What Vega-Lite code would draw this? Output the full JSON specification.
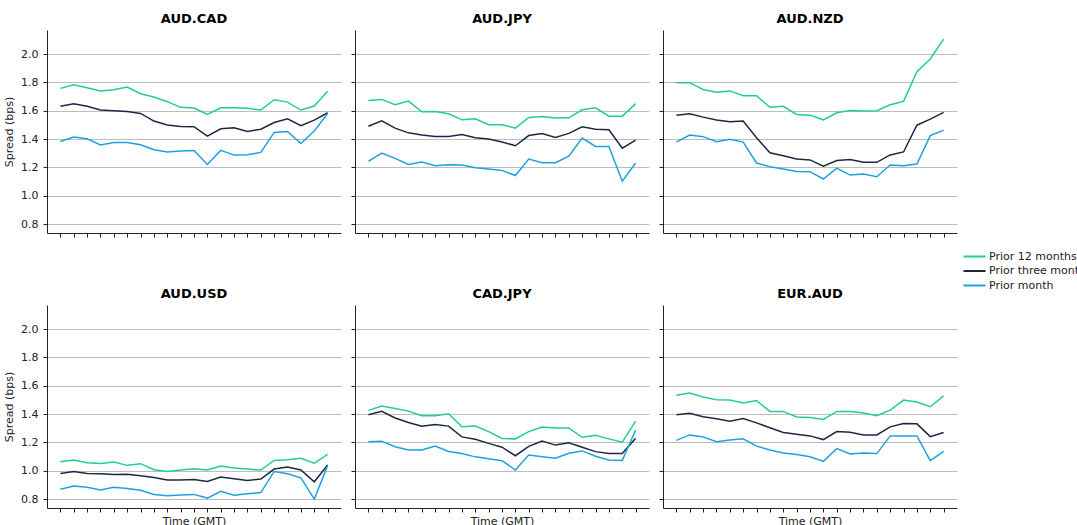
{
"$schema": "https://vega.github.io/schema/vega-lite/v6.json",
"padding": {"left": 3, "top": 13, "right": 5, "bottom": 5},
"data": {"values": [
{"p":"AUD.CAD","s":"Prior 12 months","t":0,"v":1.758},{"p":"AUD.CAD","s":"Prior 12 months","t":1,"v":1.784},{"p":"AUD.CAD","s":"Prior 12 months","t":2,"v":1.763},{"p":"AUD.CAD","s":"Prior 12 months","t":3,"v":1.739},{"p":"AUD.CAD","s":"Prior 12 months","t":4,"v":1.748},{"p":"AUD.CAD","s":"Prior 12 months","t":5,"v":1.767},{"p":"AUD.CAD","s":"Prior 12 months","t":6,"v":1.72},{"p":"AUD.CAD","s":"Prior 12 months","t":7,"v":1.697},{"p":"AUD.CAD","s":"Prior 12 months","t":8,"v":1.664},{"p":"AUD.CAD","s":"Prior 12 months","t":9,"v":1.624},{"p":"AUD.CAD","s":"Prior 12 months","t":10,"v":1.619},{"p":"AUD.CAD","s":"Prior 12 months","t":11,"v":1.574},{"p":"AUD.CAD","s":"Prior 12 months","t":12,"v":1.621},{"p":"AUD.CAD","s":"Prior 12 months","t":13,"v":1.621},{"p":"AUD.CAD","s":"Prior 12 months","t":14,"v":1.617},{"p":"AUD.CAD","s":"Prior 12 months","t":15,"v":1.605},{"p":"AUD.CAD","s":"Prior 12 months","t":16,"v":1.678},{"p":"AUD.CAD","s":"Prior 12 months","t":17,"v":1.661},{"p":"AUD.CAD","s":"Prior 12 months","t":18,"v":1.605},{"p":"AUD.CAD","s":"Prior 12 months","t":19,"v":1.633},{"p":"AUD.CAD","s":"Prior 12 months","t":20,"v":1.737},
{"p":"AUD.CAD","s":"Prior three months","t":0,"v":1.631},{"p":"AUD.CAD","s":"Prior three months","t":1,"v":1.65},{"p":"AUD.CAD","s":"Prior three months","t":2,"v":1.631},{"p":"AUD.CAD","s":"Prior three months","t":3,"v":1.605},{"p":"AUD.CAD","s":"Prior three months","t":4,"v":1.6},{"p":"AUD.CAD","s":"Prior three months","t":5,"v":1.595},{"p":"AUD.CAD","s":"Prior three months","t":6,"v":1.581},{"p":"AUD.CAD","s":"Prior three months","t":7,"v":1.527},{"p":"AUD.CAD","s":"Prior three months","t":8,"v":1.499},{"p":"AUD.CAD","s":"Prior three months","t":9,"v":1.489},{"p":"AUD.CAD","s":"Prior three months","t":10,"v":1.487},{"p":"AUD.CAD","s":"Prior three months","t":11,"v":1.421},{"p":"AUD.CAD","s":"Prior three months","t":12,"v":1.473},{"p":"AUD.CAD","s":"Prior three months","t":13,"v":1.48},{"p":"AUD.CAD","s":"Prior three months","t":14,"v":1.454},{"p":"AUD.CAD","s":"Prior three months","t":15,"v":1.47},{"p":"AUD.CAD","s":"Prior three months","t":16,"v":1.517},{"p":"AUD.CAD","s":"Prior three months","t":17,"v":1.543},{"p":"AUD.CAD","s":"Prior three months","t":18,"v":1.494},{"p":"AUD.CAD","s":"Prior three months","t":19,"v":1.534},{"p":"AUD.CAD","s":"Prior three months","t":20,"v":1.586},
{"p":"AUD.CAD","s":"Prior month","t":0,"v":1.383},{"p":"AUD.CAD","s":"Prior month","t":1,"v":1.414},{"p":"AUD.CAD","s":"Prior month","t":2,"v":1.402},{"p":"AUD.CAD","s":"Prior month","t":3,"v":1.358},{"p":"AUD.CAD","s":"Prior month","t":4,"v":1.376},{"p":"AUD.CAD","s":"Prior month","t":5,"v":1.376},{"p":"AUD.CAD","s":"Prior month","t":6,"v":1.36},{"p":"AUD.CAD","s":"Prior month","t":7,"v":1.325},{"p":"AUD.CAD","s":"Prior month","t":8,"v":1.308},{"p":"AUD.CAD","s":"Prior month","t":9,"v":1.315},{"p":"AUD.CAD","s":"Prior month","t":10,"v":1.32},{"p":"AUD.CAD","s":"Prior month","t":11,"v":1.221},{"p":"AUD.CAD","s":"Prior month","t":12,"v":1.32},{"p":"AUD.CAD","s":"Prior month","t":13,"v":1.287},{"p":"AUD.CAD","s":"Prior month","t":14,"v":1.289},{"p":"AUD.CAD","s":"Prior month","t":15,"v":1.306},{"p":"AUD.CAD","s":"Prior month","t":16,"v":1.447},{"p":"AUD.CAD","s":"Prior month","t":17,"v":1.454},{"p":"AUD.CAD","s":"Prior month","t":18,"v":1.369},{"p":"AUD.CAD","s":"Prior month","t":19,"v":1.457},{"p":"AUD.CAD","s":"Prior month","t":20,"v":1.581},
{"p":"AUD.JPY","s":"Prior 12 months","t":0,"v":1.673},{"p":"AUD.JPY","s":"Prior 12 months","t":1,"v":1.68},{"p":"AUD.JPY","s":"Prior 12 months","t":2,"v":1.642},{"p":"AUD.JPY","s":"Prior 12 months","t":3,"v":1.668},{"p":"AUD.JPY","s":"Prior 12 months","t":4,"v":1.593},{"p":"AUD.JPY","s":"Prior 12 months","t":5,"v":1.595},{"p":"AUD.JPY","s":"Prior 12 months","t":6,"v":1.579},{"p":"AUD.JPY","s":"Prior 12 months","t":7,"v":1.536},{"p":"AUD.JPY","s":"Prior 12 months","t":8,"v":1.543},{"p":"AUD.JPY","s":"Prior 12 months","t":9,"v":1.501},{"p":"AUD.JPY","s":"Prior 12 months","t":10,"v":1.501},{"p":"AUD.JPY","s":"Prior 12 months","t":11,"v":1.477},{"p":"AUD.JPY","s":"Prior 12 months","t":12,"v":1.553},{"p":"AUD.JPY","s":"Prior 12 months","t":13,"v":1.56},{"p":"AUD.JPY","s":"Prior 12 months","t":14,"v":1.548},{"p":"AUD.JPY","s":"Prior 12 months","t":15,"v":1.55},{"p":"AUD.JPY","s":"Prior 12 months","t":16,"v":1.607},{"p":"AUD.JPY","s":"Prior 12 months","t":17,"v":1.621},{"p":"AUD.JPY","s":"Prior 12 months","t":18,"v":1.562},{"p":"AUD.JPY","s":"Prior 12 months","t":19,"v":1.562},{"p":"AUD.JPY","s":"Prior 12 months","t":20,"v":1.65},
{"p":"AUD.JPY","s":"Prior three months","t":0,"v":1.491},{"p":"AUD.JPY","s":"Prior three months","t":1,"v":1.529},{"p":"AUD.JPY","s":"Prior three months","t":2,"v":1.477},{"p":"AUD.JPY","s":"Prior three months","t":3,"v":1.444},{"p":"AUD.JPY","s":"Prior three months","t":4,"v":1.428},{"p":"AUD.JPY","s":"Prior three months","t":5,"v":1.418},{"p":"AUD.JPY","s":"Prior three months","t":6,"v":1.418},{"p":"AUD.JPY","s":"Prior three months","t":7,"v":1.433},{"p":"AUD.JPY","s":"Prior three months","t":8,"v":1.409},{"p":"AUD.JPY","s":"Prior three months","t":9,"v":1.4},{"p":"AUD.JPY","s":"Prior three months","t":10,"v":1.38},{"p":"AUD.JPY","s":"Prior three months","t":11,"v":1.353},{"p":"AUD.JPY","s":"Prior three months","t":12,"v":1.425},{"p":"AUD.JPY","s":"Prior three months","t":13,"v":1.44},{"p":"AUD.JPY","s":"Prior three months","t":14,"v":1.411},{"p":"AUD.JPY","s":"Prior three months","t":15,"v":1.44},{"p":"AUD.JPY","s":"Prior three months","t":16,"v":1.487},{"p":"AUD.JPY","s":"Prior three months","t":17,"v":1.47},{"p":"AUD.JPY","s":"Prior three months","t":18,"v":1.466},{"p":"AUD.JPY","s":"Prior three months","t":19,"v":1.336},{"p":"AUD.JPY","s":"Prior three months","t":20,"v":1.393},
{"p":"AUD.JPY","s":"Prior month","t":0,"v":1.242},{"p":"AUD.JPY","s":"Prior month","t":1,"v":1.301},{"p":"AUD.JPY","s":"Prior month","t":2,"v":1.264},{"p":"AUD.JPY","s":"Prior month","t":3,"v":1.221},{"p":"AUD.JPY","s":"Prior month","t":4,"v":1.238},{"p":"AUD.JPY","s":"Prior month","t":5,"v":1.212},{"p":"AUD.JPY","s":"Prior month","t":6,"v":1.219},{"p":"AUD.JPY","s":"Prior month","t":7,"v":1.217},{"p":"AUD.JPY","s":"Prior month","t":8,"v":1.198},{"p":"AUD.JPY","s":"Prior month","t":9,"v":1.188},{"p":"AUD.JPY","s":"Prior month","t":10,"v":1.179},{"p":"AUD.JPY","s":"Prior month","t":11,"v":1.143},{"p":"AUD.JPY","s":"Prior month","t":12,"v":1.259},{"p":"AUD.JPY","s":"Prior month","t":13,"v":1.233},{"p":"AUD.JPY","s":"Prior month","t":14,"v":1.233},{"p":"AUD.JPY","s":"Prior month","t":15,"v":1.28},{"p":"AUD.JPY","s":"Prior month","t":16,"v":1.407},{"p":"AUD.JPY","s":"Prior month","t":17,"v":1.348},{"p":"AUD.JPY","s":"Prior month","t":18,"v":1.348},{"p":"AUD.JPY","s":"Prior month","t":19,"v":1.103},{"p":"AUD.JPY","s":"Prior month","t":20,"v":1.231},
{"p":"AUD.NZD","s":"Prior 12 months","t":0,"v":1.798},{"p":"AUD.NZD","s":"Prior 12 months","t":1,"v":1.798},{"p":"AUD.NZD","s":"Prior 12 months","t":2,"v":1.75},{"p":"AUD.NZD","s":"Prior 12 months","t":3,"v":1.73},{"p":"AUD.NZD","s":"Prior 12 months","t":4,"v":1.74},{"p":"AUD.NZD","s":"Prior 12 months","t":5,"v":1.706},{"p":"AUD.NZD","s":"Prior 12 months","t":6,"v":1.706},{"p":"AUD.NZD","s":"Prior 12 months","t":7,"v":1.624},{"p":"AUD.NZD","s":"Prior 12 months","t":8,"v":1.631},{"p":"AUD.NZD","s":"Prior 12 months","t":9,"v":1.574},{"p":"AUD.NZD","s":"Prior 12 months","t":10,"v":1.569},{"p":"AUD.NZD","s":"Prior 12 months","t":11,"v":1.536},{"p":"AUD.NZD","s":"Prior 12 months","t":12,"v":1.586},{"p":"AUD.NZD","s":"Prior 12 months","t":13,"v":1.602},{"p":"AUD.NZD","s":"Prior 12 months","t":14,"v":1.598},{"p":"AUD.NZD","s":"Prior 12 months","t":15,"v":1.6},{"p":"AUD.NZD","s":"Prior 12 months","t":16,"v":1.642},{"p":"AUD.NZD","s":"Prior 12 months","t":17,"v":1.666},{"p":"AUD.NZD","s":"Prior 12 months","t":18,"v":1.876},{"p":"AUD.NZD","s":"Prior 12 months","t":19,"v":1.965},{"p":"AUD.NZD","s":"Prior 12 months","t":20,"v":2.106},
{"p":"AUD.NZD","s":"Prior three months","t":0,"v":1.569},{"p":"AUD.NZD","s":"Prior three months","t":1,"v":1.579},{"p":"AUD.NZD","s":"Prior three months","t":2,"v":1.555},{"p":"AUD.NZD","s":"Prior three months","t":3,"v":1.534},{"p":"AUD.NZD","s":"Prior three months","t":4,"v":1.522},{"p":"AUD.NZD","s":"Prior three months","t":5,"v":1.527},{"p":"AUD.NZD","s":"Prior three months","t":6,"v":1.409},{"p":"AUD.NZD","s":"Prior three months","t":7,"v":1.303},{"p":"AUD.NZD","s":"Prior three months","t":8,"v":1.282},{"p":"AUD.NZD","s":"Prior three months","t":9,"v":1.26},{"p":"AUD.NZD","s":"Prior three months","t":10,"v":1.253},{"p":"AUD.NZD","s":"Prior three months","t":11,"v":1.208},{"p":"AUD.NZD","s":"Prior three months","t":12,"v":1.248},{"p":"AUD.NZD","s":"Prior three months","t":13,"v":1.255},{"p":"AUD.NZD","s":"Prior three months","t":14,"v":1.236},{"p":"AUD.NZD","s":"Prior three months","t":15,"v":1.236},{"p":"AUD.NZD","s":"Prior three months","t":16,"v":1.288},{"p":"AUD.NZD","s":"Prior three months","t":17,"v":1.309},{"p":"AUD.NZD","s":"Prior three months","t":18,"v":1.498},{"p":"AUD.NZD","s":"Prior three months","t":19,"v":1.541},{"p":"AUD.NZD","s":"Prior three months","t":20,"v":1.588},
{"p":"AUD.NZD","s":"Prior month","t":0,"v":1.379},{"p":"AUD.NZD","s":"Prior month","t":1,"v":1.428},{"p":"AUD.NZD","s":"Prior month","t":2,"v":1.417},{"p":"AUD.NZD","s":"Prior month","t":3,"v":1.381},{"p":"AUD.NZD","s":"Prior month","t":4,"v":1.398},{"p":"AUD.NZD","s":"Prior month","t":5,"v":1.379},{"p":"AUD.NZD","s":"Prior month","t":6,"v":1.231},{"p":"AUD.NZD","s":"Prior month","t":7,"v":1.205},{"p":"AUD.NZD","s":"Prior month","t":8,"v":1.188},{"p":"AUD.NZD","s":"Prior month","t":9,"v":1.172},{"p":"AUD.NZD","s":"Prior month","t":10,"v":1.17},{"p":"AUD.NZD","s":"Prior month","t":11,"v":1.118},{"p":"AUD.NZD","s":"Prior month","t":12,"v":1.195},{"p":"AUD.NZD","s":"Prior month","t":13,"v":1.146},{"p":"AUD.NZD","s":"Prior month","t":14,"v":1.153},{"p":"AUD.NZD","s":"Prior month","t":15,"v":1.134},{"p":"AUD.NZD","s":"Prior month","t":16,"v":1.217},{"p":"AUD.NZD","s":"Prior month","t":17,"v":1.212},{"p":"AUD.NZD","s":"Prior month","t":18,"v":1.224},{"p":"AUD.NZD","s":"Prior month","t":19,"v":1.424},{"p":"AUD.NZD","s":"Prior month","t":20,"v":1.463},
{"p":"AUD.USD","s":"Prior 12 months","t":0,"v":1.064},{"p":"AUD.USD","s":"Prior 12 months","t":1,"v":1.076},{"p":"AUD.USD","s":"Prior 12 months","t":2,"v":1.057},{"p":"AUD.USD","s":"Prior 12 months","t":3,"v":1.052},{"p":"AUD.USD","s":"Prior 12 months","t":4,"v":1.062},{"p":"AUD.USD","s":"Prior 12 months","t":5,"v":1.038},{"p":"AUD.USD","s":"Prior 12 months","t":6,"v":1.05},{"p":"AUD.USD","s":"Prior 12 months","t":7,"v":1.007},{"p":"AUD.USD","s":"Prior 12 months","t":8,"v":0.995},{"p":"AUD.USD","s":"Prior 12 months","t":9,"v":1.005},{"p":"AUD.USD","s":"Prior 12 months","t":10,"v":1.014},{"p":"AUD.USD","s":"Prior 12 months","t":11,"v":1.005},{"p":"AUD.USD","s":"Prior 12 months","t":12,"v":1.033},{"p":"AUD.USD","s":"Prior 12 months","t":13,"v":1.019},{"p":"AUD.USD","s":"Prior 12 months","t":14,"v":1.012},{"p":"AUD.USD","s":"Prior 12 months","t":15,"v":1.005},{"p":"AUD.USD","s":"Prior 12 months","t":16,"v":1.073},{"p":"AUD.USD","s":"Prior 12 months","t":17,"v":1.078},{"p":"AUD.USD","s":"Prior 12 months","t":18,"v":1.088},{"p":"AUD.USD","s":"Prior 12 months","t":19,"v":1.054},{"p":"AUD.USD","s":"Prior 12 months","t":20,"v":1.116},
{"p":"AUD.USD","s":"Prior three months","t":0,"v":0.981},{"p":"AUD.USD","s":"Prior three months","t":1,"v":0.995},{"p":"AUD.USD","s":"Prior three months","t":2,"v":0.981},{"p":"AUD.USD","s":"Prior three months","t":3,"v":0.979},{"p":"AUD.USD","s":"Prior three months","t":4,"v":0.974},{"p":"AUD.USD","s":"Prior three months","t":5,"v":0.976},{"p":"AUD.USD","s":"Prior three months","t":6,"v":0.964},{"p":"AUD.USD","s":"Prior three months","t":7,"v":0.953},{"p":"AUD.USD","s":"Prior three months","t":8,"v":0.934},{"p":"AUD.USD","s":"Prior three months","t":9,"v":0.934},{"p":"AUD.USD","s":"Prior three months","t":10,"v":0.938},{"p":"AUD.USD","s":"Prior three months","t":11,"v":0.924},{"p":"AUD.USD","s":"Prior three months","t":12,"v":0.955},{"p":"AUD.USD","s":"Prior three months","t":13,"v":0.943},{"p":"AUD.USD","s":"Prior three months","t":14,"v":0.931},{"p":"AUD.USD","s":"Prior three months","t":15,"v":0.941},{"p":"AUD.USD","s":"Prior three months","t":16,"v":1.012},{"p":"AUD.USD","s":"Prior three months","t":17,"v":1.026},{"p":"AUD.USD","s":"Prior three months","t":18,"v":1.005},{"p":"AUD.USD","s":"Prior three months","t":19,"v":0.922},{"p":"AUD.USD","s":"Prior three months","t":20,"v":1.04},
{"p":"AUD.USD","s":"Prior month","t":0,"v":0.869},{"p":"AUD.USD","s":"Prior month","t":1,"v":0.893},{"p":"AUD.USD","s":"Prior month","t":2,"v":0.883},{"p":"AUD.USD","s":"Prior month","t":3,"v":0.864},{"p":"AUD.USD","s":"Prior month","t":4,"v":0.883},{"p":"AUD.USD","s":"Prior month","t":5,"v":0.874},{"p":"AUD.USD","s":"Prior month","t":6,"v":0.862},{"p":"AUD.USD","s":"Prior month","t":7,"v":0.833},{"p":"AUD.USD","s":"Prior month","t":8,"v":0.824},{"p":"AUD.USD","s":"Prior month","t":9,"v":0.829},{"p":"AUD.USD","s":"Prior month","t":10,"v":0.833},{"p":"AUD.USD","s":"Prior month","t":11,"v":0.807},{"p":"AUD.USD","s":"Prior month","t":12,"v":0.855},{"p":"AUD.USD","s":"Prior month","t":13,"v":0.827},{"p":"AUD.USD","s":"Prior month","t":14,"v":0.838},{"p":"AUD.USD","s":"Prior month","t":15,"v":0.846},{"p":"AUD.USD","s":"Prior month","t":16,"v":0.995},{"p":"AUD.USD","s":"Prior month","t":17,"v":0.979},{"p":"AUD.USD","s":"Prior month","t":18,"v":0.95},{"p":"AUD.USD","s":"Prior month","t":19,"v":0.8},{"p":"AUD.USD","s":"Prior month","t":20,"v":1.036},
{"p":"CAD.JPY","s":"Prior 12 months","t":0,"v":1.426},{"p":"CAD.JPY","s":"Prior 12 months","t":1,"v":1.457},{"p":"CAD.JPY","s":"Prior 12 months","t":2,"v":1.44},{"p":"CAD.JPY","s":"Prior 12 months","t":3,"v":1.421},{"p":"CAD.JPY","s":"Prior 12 months","t":4,"v":1.388},{"p":"CAD.JPY","s":"Prior 12 months","t":5,"v":1.388},{"p":"CAD.JPY","s":"Prior 12 months","t":6,"v":1.402},{"p":"CAD.JPY","s":"Prior 12 months","t":7,"v":1.31},{"p":"CAD.JPY","s":"Prior 12 months","t":8,"v":1.315},{"p":"CAD.JPY","s":"Prior 12 months","t":9,"v":1.276},{"p":"CAD.JPY","s":"Prior 12 months","t":10,"v":1.228},{"p":"CAD.JPY","s":"Prior 12 months","t":11,"v":1.225},{"p":"CAD.JPY","s":"Prior 12 months","t":12,"v":1.276},{"p":"CAD.JPY","s":"Prior 12 months","t":13,"v":1.309},{"p":"CAD.JPY","s":"Prior 12 months","t":14,"v":1.302},{"p":"CAD.JPY","s":"Prior 12 months","t":15,"v":1.302},{"p":"CAD.JPY","s":"Prior 12 months","t":16,"v":1.236},{"p":"CAD.JPY","s":"Prior 12 months","t":17,"v":1.25},{"p":"CAD.JPY","s":"Prior 12 months","t":18,"v":1.225},{"p":"CAD.JPY","s":"Prior 12 months","t":19,"v":1.202},{"p":"CAD.JPY","s":"Prior 12 months","t":20,"v":1.35},
{"p":"CAD.JPY","s":"Prior three months","t":0,"v":1.395},{"p":"CAD.JPY","s":"Prior three months","t":1,"v":1.419},{"p":"CAD.JPY","s":"Prior three months","t":2,"v":1.372},{"p":"CAD.JPY","s":"Prior three months","t":3,"v":1.341},{"p":"CAD.JPY","s":"Prior three months","t":4,"v":1.315},{"p":"CAD.JPY","s":"Prior three months","t":5,"v":1.327},{"p":"CAD.JPY","s":"Prior three months","t":6,"v":1.315},{"p":"CAD.JPY","s":"Prior three months","t":7,"v":1.239},{"p":"CAD.JPY","s":"Prior three months","t":8,"v":1.222},{"p":"CAD.JPY","s":"Prior three months","t":9,"v":1.193},{"p":"CAD.JPY","s":"Prior three months","t":10,"v":1.166},{"p":"CAD.JPY","s":"Prior three months","t":11,"v":1.106},{"p":"CAD.JPY","s":"Prior three months","t":12,"v":1.172},{"p":"CAD.JPY","s":"Prior three months","t":13,"v":1.209},{"p":"CAD.JPY","s":"Prior three months","t":14,"v":1.181},{"p":"CAD.JPY","s":"Prior three months","t":15,"v":1.198},{"p":"CAD.JPY","s":"Prior three months","t":16,"v":1.166},{"p":"CAD.JPY","s":"Prior three months","t":17,"v":1.135},{"p":"CAD.JPY","s":"Prior three months","t":18,"v":1.121},{"p":"CAD.JPY","s":"Prior three months","t":19,"v":1.121},{"p":"CAD.JPY","s":"Prior three months","t":20,"v":1.23},
{"p":"CAD.JPY","s":"Prior month","t":0,"v":1.205},{"p":"CAD.JPY","s":"Prior month","t":1,"v":1.209},{"p":"CAD.JPY","s":"Prior month","t":2,"v":1.169},{"p":"CAD.JPY","s":"Prior month","t":3,"v":1.146},{"p":"CAD.JPY","s":"Prior month","t":4,"v":1.146},{"p":"CAD.JPY","s":"Prior month","t":5,"v":1.174},{"p":"CAD.JPY","s":"Prior month","t":6,"v":1.136},{"p":"CAD.JPY","s":"Prior month","t":7,"v":1.122},{"p":"CAD.JPY","s":"Prior month","t":8,"v":1.098},{"p":"CAD.JPY","s":"Prior month","t":9,"v":1.085},{"p":"CAD.JPY","s":"Prior month","t":10,"v":1.071},{"p":"CAD.JPY","s":"Prior month","t":11,"v":1.005},{"p":"CAD.JPY","s":"Prior month","t":12,"v":1.111},{"p":"CAD.JPY","s":"Prior month","t":13,"v":1.099},{"p":"CAD.JPY","s":"Prior month","t":14,"v":1.088},{"p":"CAD.JPY","s":"Prior month","t":15,"v":1.123},{"p":"CAD.JPY","s":"Prior month","t":16,"v":1.14},{"p":"CAD.JPY","s":"Prior month","t":17,"v":1.102},{"p":"CAD.JPY","s":"Prior month","t":18,"v":1.076},{"p":"CAD.JPY","s":"Prior month","t":19,"v":1.073},{"p":"CAD.JPY","s":"Prior month","t":20,"v":1.288},
{"p":"EUR.AUD","s":"Prior 12 months","t":0,"v":1.533},{"p":"EUR.AUD","s":"Prior 12 months","t":1,"v":1.548},{"p":"EUR.AUD","s":"Prior 12 months","t":2,"v":1.521},{"p":"EUR.AUD","s":"Prior 12 months","t":3,"v":1.502},{"p":"EUR.AUD","s":"Prior 12 months","t":4,"v":1.499},{"p":"EUR.AUD","s":"Prior 12 months","t":5,"v":1.478},{"p":"EUR.AUD","s":"Prior 12 months","t":6,"v":1.495},{"p":"EUR.AUD","s":"Prior 12 months","t":7,"v":1.419},{"p":"EUR.AUD","s":"Prior 12 months","t":8,"v":1.419},{"p":"EUR.AUD","s":"Prior 12 months","t":9,"v":1.379},{"p":"EUR.AUD","s":"Prior 12 months","t":10,"v":1.376},{"p":"EUR.AUD","s":"Prior 12 months","t":11,"v":1.362},{"p":"EUR.AUD","s":"Prior 12 months","t":12,"v":1.419},{"p":"EUR.AUD","s":"Prior 12 months","t":13,"v":1.419},{"p":"EUR.AUD","s":"Prior 12 months","t":14,"v":1.407},{"p":"EUR.AUD","s":"Prior 12 months","t":15,"v":1.388},{"p":"EUR.AUD","s":"Prior 12 months","t":16,"v":1.428},{"p":"EUR.AUD","s":"Prior 12 months","t":17,"v":1.499},{"p":"EUR.AUD","s":"Prior 12 months","t":18,"v":1.485},{"p":"EUR.AUD","s":"Prior 12 months","t":19,"v":1.452},{"p":"EUR.AUD","s":"Prior 12 months","t":20,"v":1.528},
{"p":"EUR.AUD","s":"Prior three months","t":0,"v":1.395},{"p":"EUR.AUD","s":"Prior three months","t":1,"v":1.405},{"p":"EUR.AUD","s":"Prior three months","t":2,"v":1.381},{"p":"EUR.AUD","s":"Prior three months","t":3,"v":1.367},{"p":"EUR.AUD","s":"Prior three months","t":4,"v":1.35},{"p":"EUR.AUD","s":"Prior three months","t":5,"v":1.369},{"p":"EUR.AUD","s":"Prior three months","t":6,"v":1.338},{"p":"EUR.AUD","s":"Prior three months","t":7,"v":1.303},{"p":"EUR.AUD","s":"Prior three months","t":8,"v":1.27},{"p":"EUR.AUD","s":"Prior three months","t":9,"v":1.258},{"p":"EUR.AUD","s":"Prior three months","t":10,"v":1.246},{"p":"EUR.AUD","s":"Prior three months","t":11,"v":1.22},{"p":"EUR.AUD","s":"Prior three months","t":12,"v":1.277},{"p":"EUR.AUD","s":"Prior three months","t":13,"v":1.272},{"p":"EUR.AUD","s":"Prior three months","t":14,"v":1.253},{"p":"EUR.AUD","s":"Prior three months","t":15,"v":1.253},{"p":"EUR.AUD","s":"Prior three months","t":16,"v":1.31},{"p":"EUR.AUD","s":"Prior three months","t":17,"v":1.334},{"p":"EUR.AUD","s":"Prior three months","t":18,"v":1.331},{"p":"EUR.AUD","s":"Prior three months","t":19,"v":1.241},{"p":"EUR.AUD","s":"Prior three months","t":20,"v":1.27},
{"p":"EUR.AUD","s":"Prior month","t":0,"v":1.214},{"p":"EUR.AUD","s":"Prior month","t":1,"v":1.253},{"p":"EUR.AUD","s":"Prior month","t":2,"v":1.239},{"p":"EUR.AUD","s":"Prior month","t":3,"v":1.205},{"p":"EUR.AUD","s":"Prior month","t":4,"v":1.217},{"p":"EUR.AUD","s":"Prior month","t":5,"v":1.226},{"p":"EUR.AUD","s":"Prior month","t":6,"v":1.174},{"p":"EUR.AUD","s":"Prior month","t":7,"v":1.146},{"p":"EUR.AUD","s":"Prior month","t":8,"v":1.125},{"p":"EUR.AUD","s":"Prior month","t":9,"v":1.114},{"p":"EUR.AUD","s":"Prior month","t":10,"v":1.099},{"p":"EUR.AUD","s":"Prior month","t":11,"v":1.066},{"p":"EUR.AUD","s":"Prior month","t":12,"v":1.156},{"p":"EUR.AUD","s":"Prior month","t":13,"v":1.118},{"p":"EUR.AUD","s":"Prior month","t":14,"v":1.125},{"p":"EUR.AUD","s":"Prior month","t":15,"v":1.121},{"p":"EUR.AUD","s":"Prior month","t":16,"v":1.246},{"p":"EUR.AUD","s":"Prior month","t":17,"v":1.246},{"p":"EUR.AUD","s":"Prior month","t":18,"v":1.246},{"p":"EUR.AUD","s":"Prior month","t":19,"v":1.071},{"p":"EUR.AUD","s":"Prior month","t":20,"v":1.137}
]},
"config": {
  "view": {"stroke": null},
  "font": "DejaVu Sans",
  "axis": {"domainColor": "#222222", "tickColor": "#222222", "labelColor": "#222222", "titleColor": "#222222", "labelFontSize": 11, "titleFontSize": 11, "titleFontWeight": "normal", "gridColor": "#bdbdbd", "gridWidth": 1, "tickSize": 4, "labelPadding": 5, "domainWidth": 1},
  "title": {"fontSize": 13, "fontWeight": "bold", "color": "#000000", "offset": 4},
  "legend": {"labelFontSize": 11, "labelColor": "#222222"}
},
"columns": 3,
"spacing": {"row": 50, "column": 9},
"resolve": {"scale": {"color": "shared"}, "legend": {"color": "shared"}},
"concat": [
 {"title": "AUD.CAD", "width": 294, "height": 203, "transform": [{"filter": "datum.p == 'AUD.CAD'"}],
  "mark": {"type": "line", "strokeWidth": 1.5},
  "encoding": {
   "x": {"field": "t", "type": "ordinal", "scale": {"type": "point", "padding": 1}, "axis": {"labels": false, "grid": false, "title": null}},
   "y": {"field": "v", "type": "quantitative", "scale": {"domain": [0.737, 2.17], "nice": false, "zero": false}, "axis": {"values": [0.8, 1.0, 1.2, 1.4, 1.6, 1.8, 2.0], "format": ".1f", "title": "Spread (bps)", "titlePadding": 6}},
   "color": {"field": "s", "type": "nominal", "scale": {"domain": ["Prior 12 months", "Prior three months", "Prior month"], "range": ["#1fcf92", "#1c2943", "#1fa2dc"]}, "legend": {"title": null, "orient": "none", "legendX": 921, "legendY": 220, "symbolType": "M-2,0H2", "symbolSize": 121, "symbolStrokeWidth": 2, "labelOffset": 8, "rowPadding": 2.5}}
  }},
 {"title": "AUD.JPY", "width": 294, "height": 203, "transform": [{"filter": "datum.p == 'AUD.JPY'"}],
  "mark": {"type": "line", "strokeWidth": 1.5},
  "encoding": {
   "x": {"field": "t", "type": "ordinal", "scale": {"type": "point", "padding": 1}, "axis": {"labels": false, "grid": false, "title": null}},
   "y": {"field": "v", "type": "quantitative", "scale": {"domain": [0.737, 2.17], "nice": false, "zero": false}, "axis": {"values": [0.8, 1.0, 1.2, 1.4, 1.6, 1.8, 2.0], "labels": false, "title": null}},
   "color": {"field": "s", "type": "nominal"}
  }},
 {"title": "AUD.NZD", "width": 294, "height": 203, "transform": [{"filter": "datum.p == 'AUD.NZD'"}],
  "mark": {"type": "line", "strokeWidth": 1.5},
  "encoding": {
   "x": {"field": "t", "type": "ordinal", "scale": {"type": "point", "padding": 1}, "axis": {"labels": false, "grid": false, "title": null}},
   "y": {"field": "v", "type": "quantitative", "scale": {"domain": [0.737, 2.17], "nice": false, "zero": false}, "axis": {"values": [0.8, 1.0, 1.2, 1.4, 1.6, 1.8, 2.0], "labels": false, "title": null}},
   "color": {"field": "s", "type": "nominal"}
  }},
 {"title": "AUD.USD", "width": 294, "height": 203, "transform": [{"filter": "datum.p == 'AUD.USD'"}],
  "mark": {"type": "line", "strokeWidth": 1.5},
  "encoding": {
   "x": {"field": "t", "type": "ordinal", "scale": {"type": "point", "padding": 1}, "axis": {"labels": false, "grid": false, "title": "Time (GMT)", "titlePadding": 3}},
   "y": {"field": "v", "type": "quantitative", "scale": {"domain": [0.737, 2.17], "nice": false, "zero": false}, "axis": {"values": [0.8, 1.0, 1.2, 1.4, 1.6, 1.8, 2.0], "format": ".1f", "title": "Spread (bps)", "titlePadding": 6}},
   "color": {"field": "s", "type": "nominal"}
  }},
 {"title": "CAD.JPY", "width": 294, "height": 203, "transform": [{"filter": "datum.p == 'CAD.JPY'"}],
  "mark": {"type": "line", "strokeWidth": 1.5},
  "encoding": {
   "x": {"field": "t", "type": "ordinal", "scale": {"type": "point", "padding": 1}, "axis": {"labels": false, "grid": false, "title": "Time (GMT)", "titlePadding": 3}},
   "y": {"field": "v", "type": "quantitative", "scale": {"domain": [0.737, 2.17], "nice": false, "zero": false}, "axis": {"values": [0.8, 1.0, 1.2, 1.4, 1.6, 1.8, 2.0], "labels": false, "title": null}},
   "color": {"field": "s", "type": "nominal"}
  }},
 {"title": "EUR.AUD", "width": 294, "height": 203, "transform": [{"filter": "datum.p == 'EUR.AUD'"}],
  "mark": {"type": "line", "strokeWidth": 1.5},
  "encoding": {
   "x": {"field": "t", "type": "ordinal", "scale": {"type": "point", "padding": 1}, "axis": {"labels": false, "grid": false, "title": "Time (GMT)", "titlePadding": 3}},
   "y": {"field": "v", "type": "quantitative", "scale": {"domain": [0.737, 2.17], "nice": false, "zero": false}, "axis": {"values": [0.8, 1.0, 1.2, 1.4, 1.6, 1.8, 2.0], "labels": false, "title": null}},
   "color": {"field": "s", "type": "nominal"}
  }}
]
}
